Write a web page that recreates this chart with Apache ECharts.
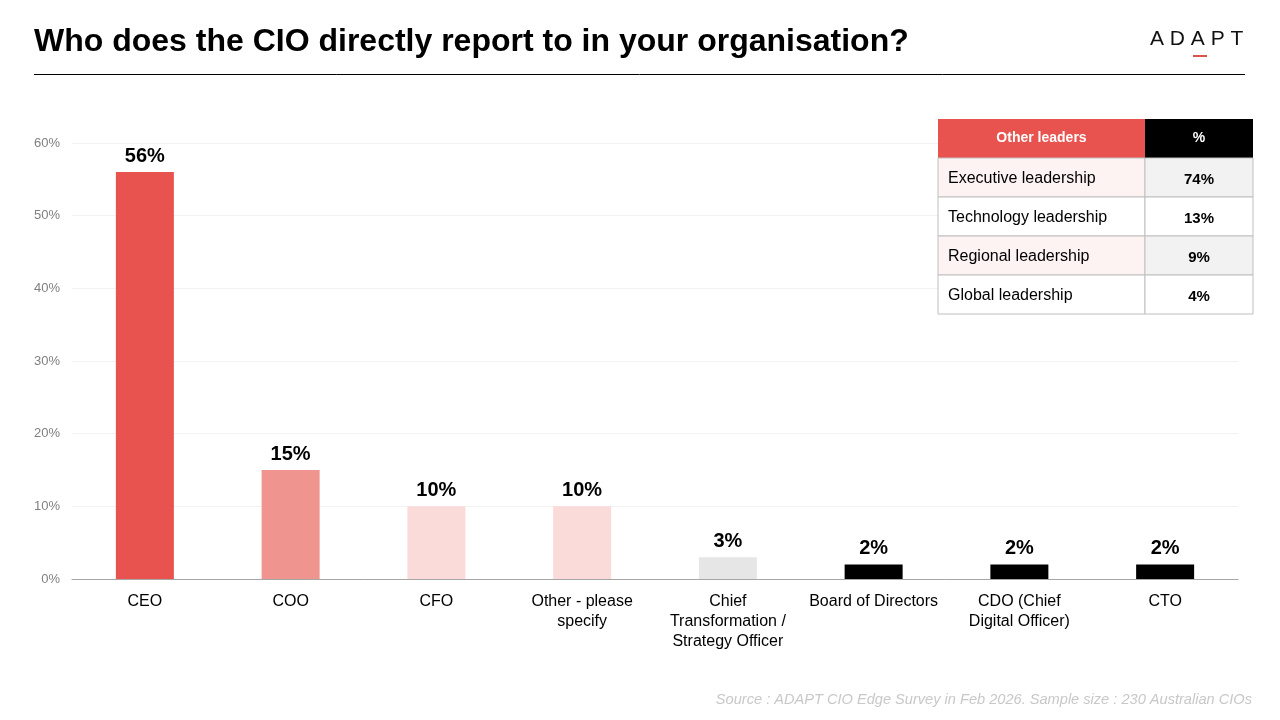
<!DOCTYPE html>
<html><head><meta charset="utf-8">
<script src="https://cdn.jsdelivr.net/npm/echarts@6/dist/echarts.min.js"></script>
<style>html,body{margin:0;padding:0;background:#fff}#c{width:1280px;height:720px}</style>
</head><body><div id="c"></div>
<script>
const categories = ['CEO','COO','CFO','Other - please\nspecify','Chief\nTransformation /\nStrategy Officer','Board of Directors','CDO (Chief\nDigital Officer)','CTO'];
const values = [56,15,10,10,3,2,2,2];
const barColors = ['#E8534F','#F09490','#FBDADA','#FBDADA','#E6E6E6','#000000','#000000','#000000'];
const tableHeader = ['Other leaders','%'];
const tableRows = ['Executive leadership','Technology leadership','Regional leadership','Global leadership'];
const tableValues = ['74%','13%','9%','4%'];
const titleText = 'Who does the CIO directly report to in your organisation?';
const sourceText = 'Source : ADAPT CIO Edge Survey in Feb 2026. Sample size : 230 Australian CIOs';

const chart = echarts.init(document.getElementById('c'));
const F = 'Liberation Sans, Arial, sans-serif';

const tx = 938, ty = 119, c1 = 207, c2 = 108, rh = 39;
const g = [];
g.push({type:'text',left:34,top:26,style:{text:titleText,fill:'#000',font:'bold 32px '+F}});
g.push({type:'line',shape:{x1:34,y1:74.5,x2:1245,y2:74.5},style:{stroke:'#000',lineWidth:1}});
g.push({type:'text',left:1150,top:29,style:{text:'A D A P T',fill:'#111',font:'21px '+F}});
g.push({type:'rect',shape:{x:1193,y:55,width:14,height:2},style:{fill:'#D9534F'}});
g.push({type:'text',right:28,top:692,style:{text:sourceText,fill:'#C8C8C8',font:'italic 14.6px '+F}});
g.push({type:'rect',shape:{x:tx,y:ty,width:c1,height:rh},style:{fill:'#E8534F'}});
g.push({type:'rect',shape:{x:tx+c1,y:ty,width:c2,height:rh},style:{fill:'#000'}});
g.push({type:'text',x:tx+c1/2,y:ty+rh/2,style:{text:tableHeader[0],fill:'#fff',font:'bold 14px '+F,align:'center',verticalAlign:'middle'}});
g.push({type:'text',x:tx+c1+c2/2,y:ty+rh/2,style:{text:tableHeader[1],fill:'#fff',font:'bold 14px '+F,align:'center',verticalAlign:'middle'}});
tableRows.forEach((r,i)=>{
  const y = ty + rh*(i+1);
  const odd = i%2===0;
  g.push({type:'rect',shape:{x:tx,y:y,width:c1,height:rh},style:{fill:odd?'#FDF3F3':'#FFFFFF',stroke:'#BFBFBF',lineWidth:1}});
  g.push({type:'rect',shape:{x:tx+c1,y:y,width:c2,height:rh},style:{fill:odd?'#F2F2F2':'#FFFFFF',stroke:'#BFBFBF',lineWidth:1}});
  g.push({type:'text',x:tx+10,y:y+rh/2+1,style:{text:r,fill:'#000',font:'16px '+F,align:'left',verticalAlign:'middle'}});
  g.push({type:'text',x:tx+c1+c2/2,y:y+rh/2+2,style:{text:tableValues[i],fill:'#000',font:'bold 15px '+F,align:'center',verticalAlign:'middle'}});
});
g.forEach(e=>{e.z=100;});

chart.setOption({
  animation:false,
  backgroundColor:'#fff',
  grid:{left:72,right:42,top:143,bottom:141,containLabel:false},
  xAxis:{type:'category',data:categories,
    axisLine:{lineStyle:{color:'#A6A6A6',width:1}},axisTick:{show:false},
    axisLabel:{color:'#000',fontSize:16,fontFamily:F,lineHeight:20,margin:13,interval:0}},
  yAxis:{type:'value',min:0,max:60,interval:10,
    axisLabel:{formatter:'{value}%',color:'#808080',fontSize:13,fontFamily:F,margin:12},
    splitLine:{lineStyle:{color:'#F2F2F2'}},axisLine:{show:false},axisTick:{show:false}},
  series:[{type:'bar',barWidth:58,
    data:values.map((v,i)=>({value:v,itemStyle:{color:barColors[i]}})),
    label:{show:true,position:'top',formatter:'{c}%',color:'#000',fontSize:20,fontWeight:'bold',fontFamily:F,distance:6}}],
  graphic:g
});
</script></body></html>
